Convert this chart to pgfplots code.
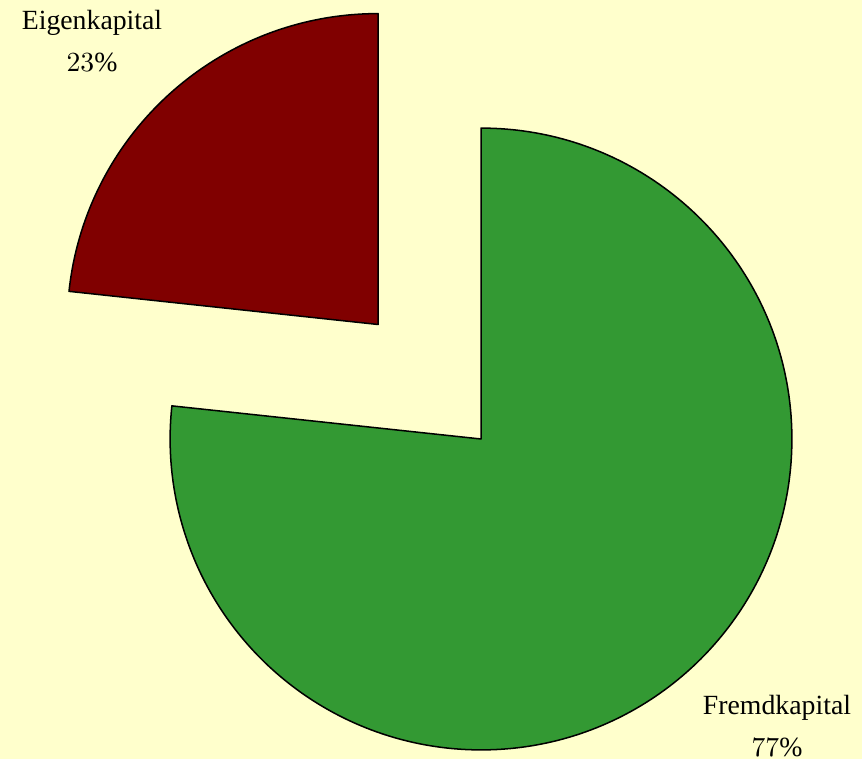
\documentclass[border=0pt]{standalone}
\usepackage{pgfplots}
\pgfplotsset{compat=1.18}
\usetikzlibrary{calc}
\usepackage{fontspec}
\setmainfont{Liberation Serif}
\definecolor{bg}{HTML}{FFFFCC}
\definecolor{fk}{HTML}{339933}
\definecolor{ek}{HTML}{800000}
% data (percent)
\def\vF{76.7}
\def\vE{23.3}
\begin{document}
\begin{tikzpicture}
\pgfmathsetmacro{\u}{12/862}% cm per pixel unit
\pgfmathsetmacro{\r}{311*\u}
\pgfmathsetmacro{\off}{154*\u}
\pgfmathsetmacro{\endF}{90-3.6*\vF}
\pgfmathsetmacro{\endE}{90+3.6*\vE}
\pgfmathsetmacro{\midE}{90+1.8*\vE}
\begin{axis}[scale only axis, width=12cm, height=10.5661cm,
  xmin=0, xmax=862, ymin=0, ymax=759, hide axis, clip=false]
\fill[bg] (axis cs:0,0) rectangle (axis cs:862,759);
\filldraw[fill=fk, draw=black, line width=0.6pt, line join=round]
  (axis cs:481,320) -- ++(90:\r cm) arc[start angle=90, end angle=\endF, radius=\r cm] -- cycle;
\filldraw[fill=ek, draw=black, line width=0.6pt, line join=round]
  ($(axis cs:481,320)+(\midE:\off cm)$) -- ++(90:\r cm) arc[start angle=90, end angle=\endE, radius=\r cm] -- cycle;
\node[align=center, font=\fontsize{11}{16.5}\selectfont] at (axis cs:92,718) {Eigenkapital\\\pgfmathprintnumber[fixed,precision=0]{\vE}\%};
\node[align=center, font=\fontsize{11}{16.5}\selectfont] at (axis cs:777,33) {Fremdkapital\\\pgfmathprintnumber[fixed,precision=0]{\vF}\%};
\end{axis}
\end{tikzpicture}
\end{document}
